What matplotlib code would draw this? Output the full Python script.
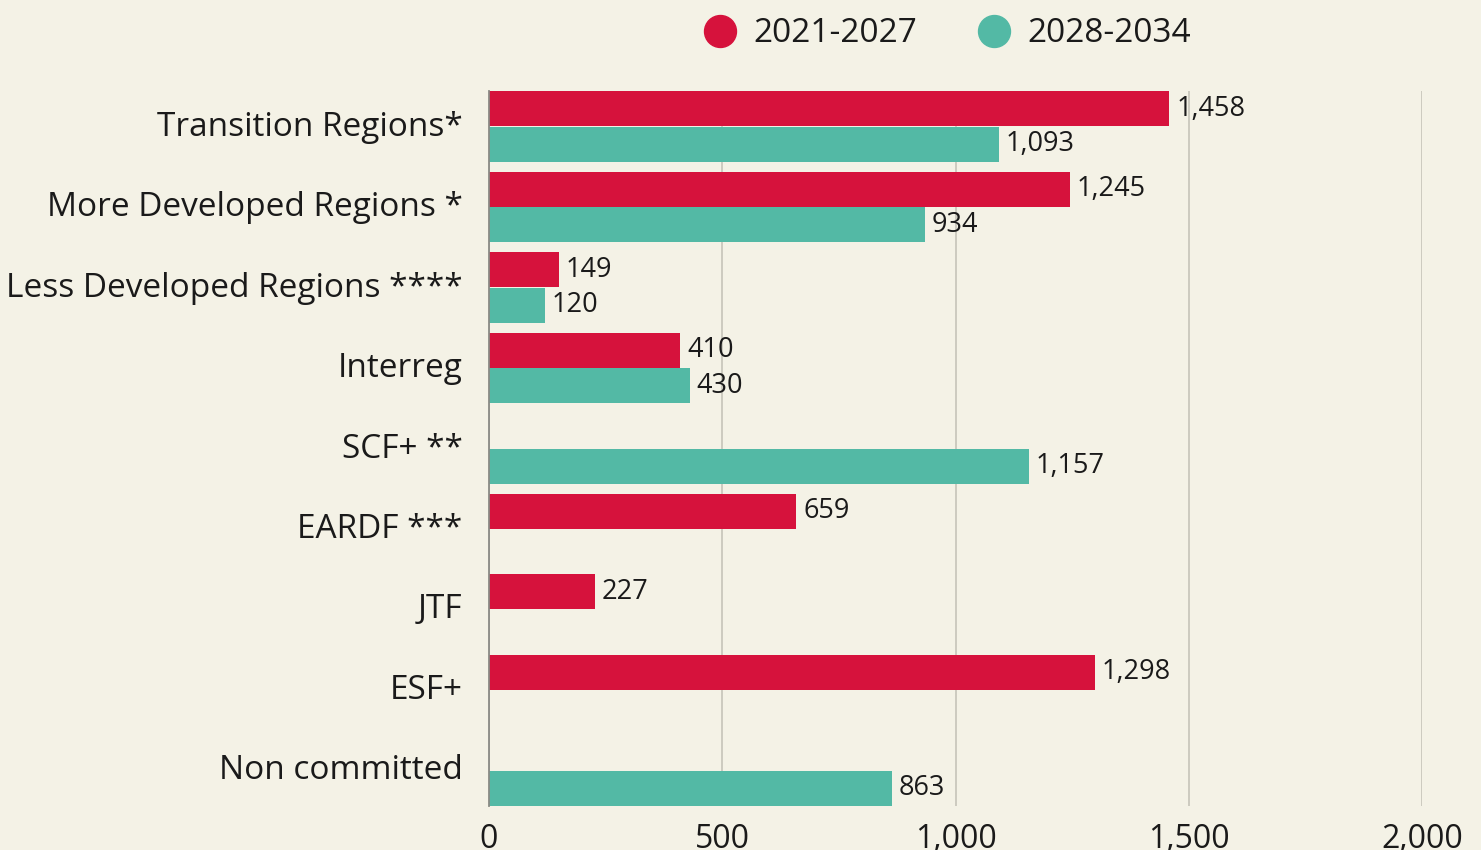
import numpy as np
import matplotlib.pyplot as plt
from matplotlib.lines import Line2D
from matplotlib.transforms import ScaledTranslation

plt.rcParams['font.family'] = ['Open Sans', 'DejaVu Sans']

categories = ["Transition Regions*", "More Developed Regions *", "Less Developed Regions ****",
              "Interreg", "SCF+ **", "EARDF ***", "JTF", "ESF+", "Non committed"]
period_2021 = [1458, 1245, 149, 410, np.nan, 659, 227, 1298, np.nan]
period_2028 = [1093, 934, 120, 430, 1157, np.nan, np.nan, np.nan, 863]
series_names = ["2021-2027", "2028-2034"]

BG = "#f4f2e6"
RED = "#d6123c"
TEAL = "#53b9a5"
TXT = "#1a1a1a"


def label_bars(ax, values, ypos):
    for v, y in zip(values, ypos):
        if np.isnan(v):
            continue
        ax.text(v + 15, y, f"{v:,.0f}", va="center", ha="left", fontsize=19.5, color=TXT)


fig = plt.figure(figsize=(14.81, 8.5), dpi=100, facecolor=BG)
ax = fig.add_axes([489 / 1481, 44 / 850, 933 / 1481, 715 / 850], facecolor=BG)

y = np.arange(len(categories))
off = 0.2205
h = 0.43
ax.barh(y - off, period_2021, height=h, color=RED, zorder=3)
ax.barh(y + off, period_2028, height=h, color=TEAL, zorder=3)
label_bars(ax, period_2021, y - off)
label_bars(ax, period_2028, y + off)

ax.set_xlim(0, 2000)
ax.set_ylim(len(categories) - 1 + 0.441, -0.441)
ax.set_xticks([0, 500, 1000, 1500, 2000])
ax.set_xticklabels(["0", "500", "1,000", "1,500", "2,000"])
ax.set_yticks(y)
ax.set_yticklabels(categories)
ax.tick_params(axis="y", length=0, pad=19, labelsize=24, labelcolor=TXT)
ax.tick_params(axis="x", length=0, pad=12, labelsize=23, labelcolor=TXT)
# nudge category labels up a few pixels
shift = ScaledTranslation(0, 3.5 / 100, fig.dpi_scale_trans)
for lbl in ax.get_yticklabels():
    lbl.set_transform(lbl.get_transform() + shift)
ax.grid(axis="x", color="#c9c7bd", linewidth=1.3, zorder=0)
ax.set_axisbelow(True)
for s in ["top", "right", "bottom"]:
    ax.spines[s].set_visible(False)
ax.spines["left"].set_color("#8a8a85")
ax.spines["left"].set_linewidth(1.3)
ax.spines["left"].set_zorder(4)

handles = [Line2D([], [], linestyle="none", marker="o", markersize=23, color=RED),
           Line2D([], [], linestyle="none", marker="o", markersize=23, color=TEAL)]
fig.legend(handles, series_names, loc="center", bbox_to_anchor=(947 / 1481, 1 - 34 / 850),
           ncol=2, frameon=False, fontsize=24, handlelength=1, handletextpad=0.5,
           columnspacing=1.8, labelcolor=TXT)

fig.savefig("out.png", dpi=100, facecolor=BG)
